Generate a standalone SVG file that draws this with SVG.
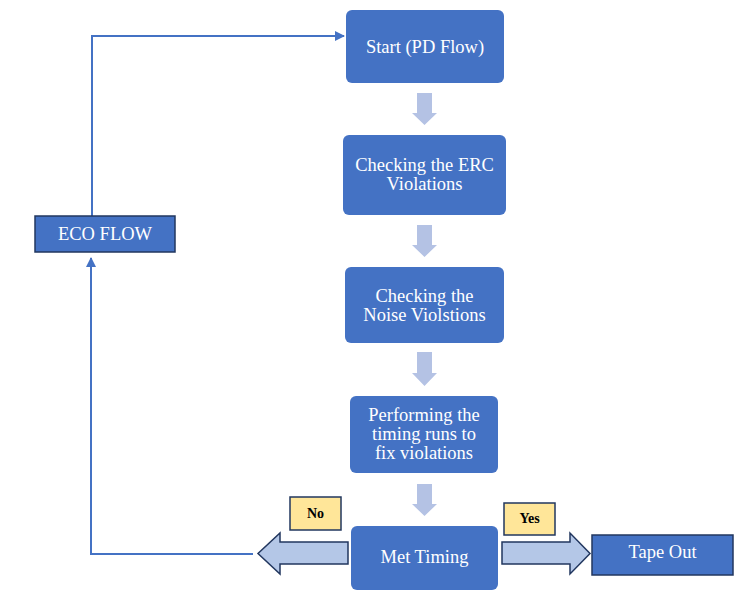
<svg xmlns="http://www.w3.org/2000/svg" width="736" height="598" viewBox="0 0 736 598">
  <defs>
    <style>
      .step { fill: #4472C4; }
      .boxed { fill: #4472C4; stroke: #22375F; stroke-width: 1.5; }
      .txt { font-family: "Liberation Serif", "Times New Roman", serif; font-size: 18.5px; fill: #FFFFFF; text-anchor: middle; }
      .tag { fill: #FFE699; stroke: #22375F; stroke-width: 1.5; }
      .tagtxt { font-family: "Liberation Serif", "Times New Roman", serif; font-size: 14px; font-weight: bold; fill: #000000; text-anchor: middle; }
      .down { fill: #B4C2E4; }
      .block { fill: #B4C7E7; stroke: #22375F; stroke-width: 1.5; }
      .link { fill: none; stroke: #4472C4; stroke-width: 2; }
    </style>
    <marker id="tip" viewBox="0 0 10 10" refX="9" refY="5" markerWidth="5" markerHeight="5" orient="auto">
      <path d="M0,0 L10,5 L0,10 z" fill="#4472C4"/>
    </marker>
  </defs>

  <!-- connectors -->
  <g id="connectors">
    <path class="link" d="M92,216 V36 H344" marker-end="url(#tip)"/>
    <path class="link" d="M253,554 H91 V258" marker-end="url(#tip)"/>
    <!-- down arrows between steps -->
    <path class="down" d="M417,93 H432 V113 H437 L424.5,125 L412,113 H417 Z"/>
    <path class="down" d="M417,225 H432 V245 H437 L424.5,257 L412,245 H417 Z"/>
    <path class="down" d="M417,352 H432 V373 H437 L424.5,386 L412,373 H417 Z"/>
    <path class="down" d="M417,484 H432 V504 H437 L424.5,516 L412,504 H417 Z"/>
    <!-- decision outcome arrows -->
    <path class="block" d="M348,542 H280 V533 L258,553.5 L280,574 V564 H348 Z"/>
    <path class="block" d="M502,542 H570 V533 L590,553.5 L570,574 V564 H502 Z"/>
  </g>

  <g id="start">
    <rect class="step" x="346" y="10" width="158" height="73" rx="6"/>
    <text class="txt" x="425" y="53">Start (PD Flow)</text>
  </g>

  <g id="erc">
    <rect class="step" x="343" y="135" width="163" height="80" rx="6"/>
    <text class="txt" x="424.5" y="171">Checking the ERC</text>
    <text class="txt" x="424.5" y="190">Violations</text>
  </g>

  <g id="noise">
    <rect class="step" x="345" y="267" width="159" height="76" rx="6"/>
    <text class="txt" x="424.5" y="301.5">Checking the</text>
    <text class="txt" x="424.5" y="320.5">Noise Violstions</text>
  </g>

  <g id="timing-runs">
    <rect class="step" x="350" y="396" width="148" height="77" rx="6"/>
    <text class="txt" x="424" y="420.5">Performing the</text>
    <text class="txt" x="424" y="439.5">timing runs to</text>
    <text class="txt" x="424" y="458.5">fix violations</text>
  </g>

  <g id="met-timing">
    <rect class="step" x="351" y="526" width="147" height="64" rx="6"/>
    <text class="txt" x="424.5" y="563">Met Timing</text>
  </g>

  <g id="tape-out">
    <rect class="boxed" x="592" y="535" width="141" height="40"/>
    <text class="txt" x="662.5" y="558">Tape Out</text>
  </g>

  <g id="eco-flow">
    <rect class="boxed" x="35" y="216" width="140" height="36"/>
    <text class="txt" x="105" y="240">ECO FLOW</text>
  </g>

  <g id="label-no">
    <rect class="tag" x="290" y="497" width="51" height="33"/>
    <text class="tagtxt" x="315.5" y="518">No</text>
  </g>

  <g id="label-yes">
    <rect class="tag" x="504" y="503" width="51" height="32"/>
    <text class="tagtxt" x="529.5" y="523">Yes</text>
  </g>
</svg>
